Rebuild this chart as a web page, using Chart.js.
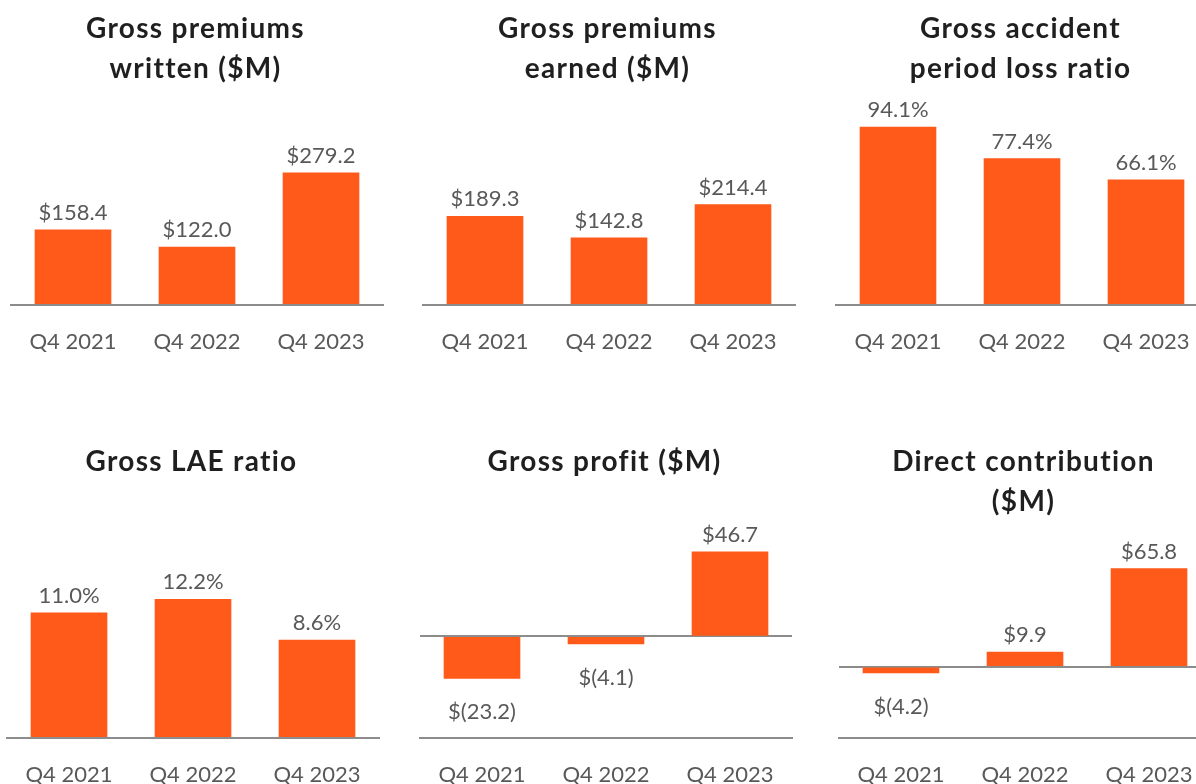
<!DOCTYPE html>
<html>
<head>
<meta charset="utf-8">
<script src="https://cdn.jsdelivr.net/npm/chart.js@4.4.1/dist/chart.umd.min.js"></script>
<style>
html,body{margin:0;padding:0;width:1196px;height:784px;overflow:hidden;background:#fff;position:relative;}
canvas{position:absolute;}
.t{position:absolute;width:400px;text-align:center;font-family:Lato,"Open Sans",sans-serif;font-weight:700;font-size:28px;letter-spacing:1.3px;line-height:40px;color:#1f1f1f;white-space:nowrap;}
</style>
</head>
<body>
<script>
// ---- data ----
const categories = ['Q4 2021', 'Q4 2022', 'Q4 2023'];
const grossPremiumsWritten = [158.4, 122.0, 279.2];
const grossPremiumsEarned = [189.3, 142.8, 214.4];
const grossAccidentLossRatio = [94.1, 77.4, 66.1];
const grossLaeRatio = [11.0, 12.2, 8.6];
const grossProfit = [-23.2, -4.1, 46.7];
const directContribution = [-4.2, 9.9, 65.8];
const titleGPW = ['Gross premiums', 'written ($M)'];
const titleGPE = ['Gross premiums', 'earned ($M)'];
const titleLoss = ['Gross accident', 'period loss ratio'];
const titleLAE = ['Gross LAE ratio'];
const titleProfit = ['Gross profit ($M)'];
const titleDirect = ['Direct contribution', '($M)'];

// ---- layout / style ----
const BAR = '#FF5A19';
const AXIS = '#8c8c8c';
const TEXT = '#595959';

const panels = [
  {data: grossPremiumsWritten, title: titleGPW, kind: 'money', areaLeft: 11,  row: 0, min: 0, max: 433.7},
  {data: grossPremiumsEarned,  title: titleGPE, kind: 'money', areaLeft: 423, row: 0, min: 0, max: 438.3},
  {data: grossAccidentLossRatio, title: titleLoss, kind: 'pct', areaLeft: 836, row: 0, min: 0, max: 108.4},
  {data: grossLaeRatio,        title: titleLAE, kind: 'pct',   areaLeft: 7,   row: 1, min: 0, max: 17.86},
  {data: grossProfit,          title: titleProfit, kind: 'money', areaLeft: 420, row: 1, min: -55.95, max: 56.07},
  {data: directContribution,   title: titleDirect, kind: 'money', areaLeft: 839, row: 1, min: -47.5, max: 88.3}
];

const rows = [
  {canvasTop: 0, height: 379, padTop: 100, padBottom: 0, titleTop: 7.3},
  {canvasTop: 400, height: 413, padTop: 135, padBottom: 1, titleTop: 440.3}
];

function fmt(v, kind) {
  if (kind === 'pct') return v.toFixed(1) + '%';
  return v < 0 ? '$(' + Math.abs(v).toFixed(1) + ')' : '$' + v.toFixed(1);
}

const valueLabels = {
  id: 'valueLabels',
  afterDatasetsDraw(chart, args, opts) {
    const ctx = chart.ctx;
    const ds = chart.data.datasets[0];
    const meta = chart.getDatasetMeta(0);
    ctx.save();
    ctx.font = '22px Lato, "Open Sans", sans-serif';
    ctx.fillStyle = TEXT;
    ctx.textAlign = 'center';
    ctx.textBaseline = 'middle';
    meta.data.forEach((bar, i) => {
      const v = ds.data[i];
      const y = v >= 0 ? bar.y - 17 : bar.y + 34;
      ctx.fillText(fmt(v, opts.kind), bar.x, y);
    });
    ctx.restore();
  }
};

panels.forEach((p, idx) => {
  const r = rows[p.row];
  const cv = document.createElement('canvas');
  const W = 400;
  cv.width = W; cv.height = r.height;
  cv.style.left = (p.areaLeft - 14) + 'px';
  cv.style.top = r.canvasTop + 'px';
  cv.style.width = W + 'px'; cv.style.height = r.height + 'px';
  document.body.appendChild(cv);

  const t = document.createElement('div');
  t.className = 't';
  t.style.left = (p.areaLeft + 186 - 1.5 - 200) + 'px';
  t.style.top = r.titleTop + 'px';
  t.innerHTML = p.title.join('<br>');
  document.body.appendChild(t);

  new Chart(cv, {
    type: 'bar',
    data: {
      labels: categories,
      datasets: [{data: p.data, backgroundColor: BAR, borderWidth: 0, barThickness: 76}]
    },
    options: {
      responsive: false,
      animation: false,
      devicePixelRatio: 1,
      layout: {padding: {top: r.padTop, left: 14, right: 14, bottom: r.padBottom}},
      plugins: {legend: {display: false}, tooltip: {enabled: false}, title: {display: false}, valueLabels: {kind: p.kind}},
      scales: {
        x: {
          grid: {display: false, drawTicks: false, tickLength: 0},
          border: {display: true, color: AXIS, width: 2},
          ticks: {color: TEXT, font: {family: 'Lato, "Open Sans", sans-serif', size: 22}, padding: 24, maxRotation: 0, autoSkip: false}
        },
        y: {
          display: true,
          min: p.min, max: p.max,
          ticks: {display: false},
          grid: {drawTicks: false, tickLength: 0, lineWidth: 2,
                 color: (c) => (c.tick && c.tick.value === 0) ? AXIS : 'rgba(0,0,0,0)'},
          border: {display: false},
          afterBuildTicks: (s) => { s.ticks = [{value: 0}]; }
        }
      }
    },
    plugins: [valueLabels]
  });
});
</script>
</body>
</html>
